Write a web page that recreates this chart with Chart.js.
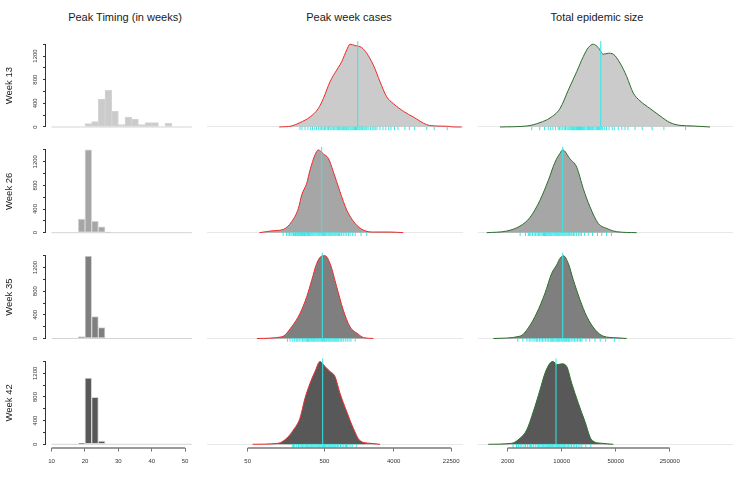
<!DOCTYPE html>
<html>
<head>
<meta charset="utf-8">
<title>Peak timing, peak week cases and epidemic size</title>
<script src="https://cdn.jsdelivr.net/npm/chart.js@4.4.1/dist/chart.umd.min.js"></script>
<style>
  html, body { margin: 0; padding: 0; background: #fff; }
  body { position: relative; width: 747px; height: 489px; overflow: hidden;
         font-family: "Liberation Sans", Arial, sans-serif; }
  canvas { position: absolute; }
  .coltitle { position: absolute; top: 11px; line-height: 13px; font-size: 11px; color: #1a1a1a;
              transform: translateX(-50%); white-space: nowrap; }
</style>
</head>
<body>
<div class="coltitle" style="left:125px">Peak Timing (in weeks)</div>
<div class="coltitle" style="left:349px">Peak week cases</div>
<div class="coltitle" style="left:597px">Total epidemic size</div>
<script>
var weeks = ['Week 13', 'Week 26', 'Week 35', 'Week 42'];

// peak timing histograms (2 week bins, 10 to 52)
var peakBreaks = [10,12,14,16,18,20,22,24,26,28,30,32,34,36,38,40,42,44,46,48,50,52];
var peakCount13 = [0,0,0,0,0,56,90,471,622,264,40,168,135,40,73,73,0,60,0,0,0];
var peakCount26 = [0,0,0,0,231,1403,192,101,10,0,0,0,0,0,0,0,0,0,0,0,0];
var peakCount35 = [0,0,0,0,34,1393,371,185,0,0,0,0,0,0,0,0,0,0,0,0,0];
var peakCount42 = [0,0,0,0,14,1121,796,56,0,0,0,0,0,0,0,0,0,0,0,0,0];
var peakTicks = [10,20,30,40,50];
var countTicks = [0,200,400,600,800,1000,1200,1400];
var countLabels = [0,400,800,1200];

// peak week cases, density scaled to its own peak
var casesX13 = [129,187,240,325,416,484,592,723,841,977,1079,1253,1532,1782,2172,2655,3245,3957,5343,7211,10790,14560,20620,23990,30830];
var casesY13 = [0,0.012,0.053,0.121,0.223,0.344,0.547,0.688,0.789,0.931,1.0,0.984,0.960,0.891,0.749,0.547,0.364,0.283,0.190,0.121,0.028,0.012,0.008,0,0];
var casesX26 = [71,108,146,187,229,253,294,325,377,416,484,562,653,798,977,1253,1607,2172,3581,5343];
var casesY26 = [0,0.024,0.040,0.133,0.294,0.456,0.597,0.758,0.940,1.0,0.952,0.899,0.738,0.496,0.274,0.113,0.032,0.008,0.008,0];
var casesX35 = [66,139,187,240,294,342,397,461,509,592,723,881,1079,1384,1607,2172];
var casesY35 = [0,0.020,0.141,0.302,0.504,0.706,0.907,0.996,1.0,0.907,0.625,0.343,0.141,0.052,0.012,0];
var casesX42 = [58,125,161,197,240,279,325,377,438,509,592,687,798,977,1191,1455,1967,2655];
var casesY42 = [0,0.012,0.073,0.173,0.315,0.556,0.738,0.879,1.0,0.940,0.879,0.819,0.617,0.395,0.194,0.044,0.012,0];
var casesMedian = [1360, 461, 470, 475];
var casesRug13 = [240,255,280,305,330,350,375,395,420,440,460,480,500,520,545,565,590,610,630,660,685,710,735,760,780,800,830,855,890,920,950,975,1010,1040,1080,1110,1150,1190,1230,1270,1310,1360,1410,1450,1500,1540,1580,1640,1690,1750,1800,1900,2000,2100,2210,2300,2420,2650,2900,3160,3450,3690,4100,4550,5600,6400,7500,10800,13500,20000];
var casesRug26 = [145,160,168,175,183,190,198,205,210,215,222,230,238,245,252,260,268,275,282,290,300,310,318,325,335,345,355,365,378,390,402,415,428,440,455,470,485,500,512,525,542,560,578,595,612,630,650,670,690,710,735,760,780,800,840,880,930,980,1030,1080,1170,1260,1500,1780];
var casesRug35 = [165,178,190,203,215,225,235,248,260,270,280,290,300,308,315,325,335,345,355,365,375,388,400,412,425,440,455,470,485,498,510,525,540,558,575,592,610,630,650,670,690,712,735,768,800,840,880,935,990,1050,1110,1260];
var casesRug42 = [190,198,205,218,230,240,250,260,270,280,290,298,305,315,325,335,345,355,365,378,390,402,415,428,440,455,470,485,500,512,525,542,560,578,595,612,630,650,670,690,710,740,770,810,850,895,940,975,1010,1080,1150,1300];
var casesTicks = [50, 500, 4000, 22500];

// total epidemic size, density scaled to its own peak
var sizeX13 = [1592,3527,5240,7060,9510,12170,15630,19020,22090,25640,29720,34520,40070,46520,56800,69300,84400,103000,138800,187000,251800,338800,503700,828000];
var sizeY13 = [0,0.012,0.053,0.109,0.223,0.445,0.668,0.850,0.959,1.0,0.959,0.879,0.891,0.879,0.773,0.611,0.409,0.316,0.223,0.134,0.053,0.020,0.012,0];
var sizeX26 = [1072,1942,2890,3890,5240,6710,8190,9510,10300,12800,15630,19020,23230,29720,38190,51500,93300];
var sizeY26 = [0,0.02,0.08,0.184,0.392,0.632,0.852,0.96,1.0,0.892,0.792,0.532,0.312,0.112,0.052,0.012,0];
var sizeX35 = [1303,2890,3698,4750,6080,7430,8610,9510,10490,12170,14130,17250,21050,26980,34520,51500,69300];
var sizeY35 = [0,0.028,0.128,0.308,0.548,0.788,0.888,0.968,1.0,0.908,0.708,0.468,0.268,0.108,0.028,0.008,0];
var sizeX42 = [1122,2254,2890,3527,4295,5240,6080,7060,7790,8610,10000,11610,13470,16410,20020,24430,32910,46520];
var sizeY42 = [0,0.012,0.073,0.173,0.395,0.657,0.859,0.980,1.0,0.960,0.972,0.940,0.738,0.496,0.274,0.052,0.012,0];
var sizeMedian = [32000, 10300, 10300, 8440];
var sizeRug13 = [4100,5200,6000,6700,7200,7700,8300,9000,9400,9800,10300,10800,11200,11700,12100,12500,12900,13300,13800,14300,14700,15200,15600,16000,16500,17000,17500,18000,18500,19000,19500,20000,20700,21500,22200,23000,23700,24500,25200,26000,27000,28000,29000,30000,31000,32000,33000,34000,36000,38000,41000,45000,48000,54000,60000,66000,72000,89000,110000,148000,210000,400000];
var sizeRug26 = [2900,3400,3700,3850,4000,4200,4400,4600,4800,5000,5200,5400,5600,5800,6000,6150,6300,6500,6700,6900,7100,7300,7500,7750,8000,8250,8500,8750,9000,9250,9500,9800,10100,10400,10700,11000,11400,11700,12100,12400,12800,13200,13600,14200,14800,15600,16400,17200,18000,19800,22000,25000,29000,33000,38000,44000];
var sizeRug35 = [2700,3150,3550,3800,4000,4250,4500,4700,4900,5150,5400,5650,5900,6200,6500,6800,7100,7300,7500,7700,7900,8200,8500,8750,9000,9250,9500,9800,10100,10400,10700,11000,11300,11600,12000,12300,12700,13300,14000,14600,15300,16000,16800,17500,18300,20600,23000,27000,31500,37000,48000];
var sizeRug42 = [2350,2600,2750,2900,3050,3250,3400,3600,3800,3950,4100,4300,4550,4800,5000,5200,5400,5600,5750,5900,6100,6300,6500,6700,6900,7100,7300,7500,7700,7900,8200,8500,8750,9000,9250,9500,9800,10100,10400,10700,11000,11300,11800,12300,12800,13400,14100,14800,15500,16300,17200,18200,20500,23800];
var sizeTicks = [2000, 10000, 50000, 250000];

var peakCounts = [peakCount13, peakCount26, peakCount35, peakCount42];
var casesX = [casesX13, casesX26, casesX35, casesX42];
var casesY = [casesY13, casesY26, casesY35, casesY42];
var casesRug = [casesRug13, casesRug26, casesRug35, casesRug42];
var sizeX = [sizeX13, sizeX26, sizeX35, sizeX42];
var sizeY = [sizeY13, sizeY26, sizeY35, sizeY42];
var sizeRug = [sizeRug13, sizeRug26, sizeRug35, sizeRug42];

// look and layout
Chart.defaults.font.family = '"Liberation Sans", Arial, sans-serif';
Chart.defaults.font.size = 6;
Chart.defaults.color = '#333';
var fills = ['#cbcbcb', '#a6a6a6', '#7f7f7f', '#585858'];
var cyan = '#33e8e8';
var baseY = [127, 232.7, 338.5, 444.3];
var cols = [
  {left: 0, width: 200, areaL: 46, areaR: 197.4},
  {left: 200, width: 270, areaL: 206.7, areaR: 463},
  {left: 470, width: 277, areaL: 478.3, areaR: 732.7}
];
var AREA_H = 89.4, ZERO_UP = 86.1, AXIS_H = 25, RUG_Y = -0.02;

// R style axis line: only from first to last tick
var rAxisLine = {
  id: 'rAxisLine',
  afterDraw: function (chart) {
    var ctx = chart.ctx;
    Object.keys(chart.scales).forEach(function (k) {
      var s = chart.scales[k];
      if (!s.options.display || !s.options.rLine || !s.ticks.length) return;
      var a = s.getPixelForValue(s.ticks[0].value);
      var b = s.getPixelForValue(s.ticks[s.ticks.length - 1].value);
      ctx.save();
      ctx.strokeStyle = s.options.rLine;
      ctx.lineWidth = s.options.rLineWidth || 1;
      ctx.beginPath();
      if (s.isHorizontal()) { ctx.moveTo(a, s.top + 0.5); ctx.lineTo(b, s.top + 0.5); }
      else { ctx.moveTo(s.right - 0.5, a); ctx.lineTo(s.right - 0.5, b); }
      ctx.stroke();
      ctx.restore();
    });
  }
};

// keep the plot area exactly where the layout puts it
function noPad(s) {
  s.paddingTop = 0; s.paddingBottom = 0; s.paddingLeft = 0; s.paddingRight = 0;
}

function makeCanvas(col, row) {
  var c = cols[col];
  var areaTop = baseY[row] - ZERO_UP;
  var top = Math.floor(areaTop);
  var axisH = row === 3 ? AXIS_H : 0;
  var h = Math.ceil(areaTop - top + AREA_H + axisH);
  var cv = document.createElement('canvas');
  cv.width = c.width; cv.height = h;
  cv.style.left = c.left + 'px'; cv.style.top = top + 'px';
  cv.style.width = c.width + 'px'; cv.style.height = h + 'px';
  document.body.appendChild(cv);
  var yAxisW = col === 0 ? 42 : 0;
  return {
    canvas: cv,
    padding: {
      left: c.areaL - c.left - yAxisW,
      right: c.left + c.width - c.areaR,
      top: areaTop - top,
      bottom: h - (areaTop - top) - AREA_H - axisH
    }
  };
}

function bottomAxis(row, ticksList, extra) {
  var shown = row === 3;
  var ax = {
    display: shown,
    bounds: 'data',
    offset: false,
    border: {display: false},
    grid: {offset: false, drawOnChartArea: false, drawTicks: true, tickLength: 4, tickColor: '#777', lineWidth: 1},
    ticks: {font: {size: 6}, color: '#333', padding: 6, maxRotation: 0, minRotation: 0, autoSkip: false,
            callback: function (v) { return String(v); }},
    afterBuildTicks: function (s) { s.ticks = ticksList.map(function (v) { return {value: v}; }); },
    afterFit: function (s) { s.height = shown ? AXIS_H : 0; noPad(s); },
    rLine: '#7a7a7a',
    rLineWidth: 1.5
  };
  for (var k in extra) ax[k] = extra[k];
  return ax;
}

function histChart(row) {
  var p = makeCanvas(0, row);
  var counts = peakCounts[row];
  var bars = counts.map(function (n, i) {
    return {x: (peakBreaks[i] + peakBreaks[i + 1]) / 2, y: n};
  });
  var last = peakBreaks.length - 1;
  new Chart(p.canvas, {
    type: 'bar',
    data: {
      datasets: [{
        type: 'bar', data: bars, backgroundColor: fills[row], borderColor: '#d4d4d4',
        borderWidth: 1, borderSkipped: false, barPercentage: 1, categoryPercentage: 1, order: 1
      }, {
        type: 'line', data: [{x: peakBreaks[0], y: 0}, {x: peakBreaks[last], y: 0}],
        borderColor: '#d4d4d4', borderWidth: 1, pointRadius: 0, order: 2
      }]
    },
    options: {
      responsive: false, animation: false,
      layout: {padding: p.padding, autoPadding: false},
      plugins: {legend: {display: false}, tooltip: {enabled: false}},
      scales: {
        x: bottomAxis(row, peakTicks, {type: 'linear', min: 8.32, max: 53.68}),
        y: {
          type: 'linear', min: -56, max: 1456, bounds: 'data',
          border: {display: false},
          grid: {drawOnChartArea: false, drawTicks: true, tickLength: 3, tickColor: '#333', lineWidth: 1},
          ticks: {font: {size: 6}, color: '#333', padding: 1, minRotation: 90, maxRotation: 90,
                  crossAlign: 'center', autoSkip: false,
                  callback: function (v) { return countLabels.indexOf(v) >= 0 ? String(v) : ''; }},
          title: {display: true, text: weeks[row], font: {size: 9.5}, color: '#1a1a1a', padding: 0},
          afterBuildTicks: function (s) { s.ticks = countTicks.map(function (v) { return {value: v}; }); },
          afterFit: function (s) { s.width = 42; noPad(s); },
          rLine: '#333'
        }
      }
    },
    plugins: [rAxisLine]
  });
}

function densChart(col, row) {
  var p = makeCanvas(col, row);
  var xs = col === 1 ? casesX[row] : sizeX[row];
  var ys = col === 1 ? casesY[row] : sizeY[row];
  var rug = col === 1 ? casesRug[row] : sizeRug[row];
  var med = col === 1 ? casesMedian[row] : sizeMedian[row];
  var edge = col === 1 ? '#ee2a2a' : '#2d6e2d';
  var xr = col === 1 ? {min: 14.6, max: 32060} : {min: 834, max: 1630000};
  var curve = xs.map(function (x, i) { return {x: x, y: ys[i]}; });
  new Chart(p.canvas, {
    type: 'line',
    data: {
      datasets: [{
        data: curve, fill: 'origin', backgroundColor: fills[row], borderColor: edge,
        borderWidth: 1, pointRadius: 0, cubicInterpolationMode: 'monotone', order: 3
      }, {
        data: [{x: med, y: 0}, {x: med, y: 1.04}], borderColor: cyan, borderWidth: 1,
        pointRadius: 0, order: 2
      }, {
        type: 'scatter', data: rug.map(function (v) { return {x: v, y: RUG_Y}; }),
        pointStyle: 'line', rotation: 90, radius: 2, pointRadius: 2,
        borderColor: cyan, pointBorderColor: cyan, borderWidth: 1, showLine: false, order: 1
      }]
    },
    options: {
      responsive: false, animation: false,
      layout: {padding: p.padding, autoPadding: false},
      plugins: {legend: {display: false}, tooltip: {enabled: false}},
      scales: {
        x: bottomAxis(row, col === 1 ? casesTicks : sizeTicks, {type: 'logarithmic', min: xr.min, max: xr.max}),
        y: {
          type: 'linear', min: -0.04, max: 1.04, bounds: 'data',
          border: {display: false},
          ticks: {display: false},
          grid: {drawTicks: false, color: '#e8e8e8', lineWidth: 1},
          afterBuildTicks: function (s) { s.ticks = [{value: 0}]; },
          afterFit: function (s) { s.width = 0; noPad(s); }
        }
      }
    },
    plugins: [rAxisLine]
  });
}

for (var r = 0; r < 4; r++) {
  histChart(r);
  densChart(1, r);
  densChart(2, r);
}
</script>
</body>
</html>
